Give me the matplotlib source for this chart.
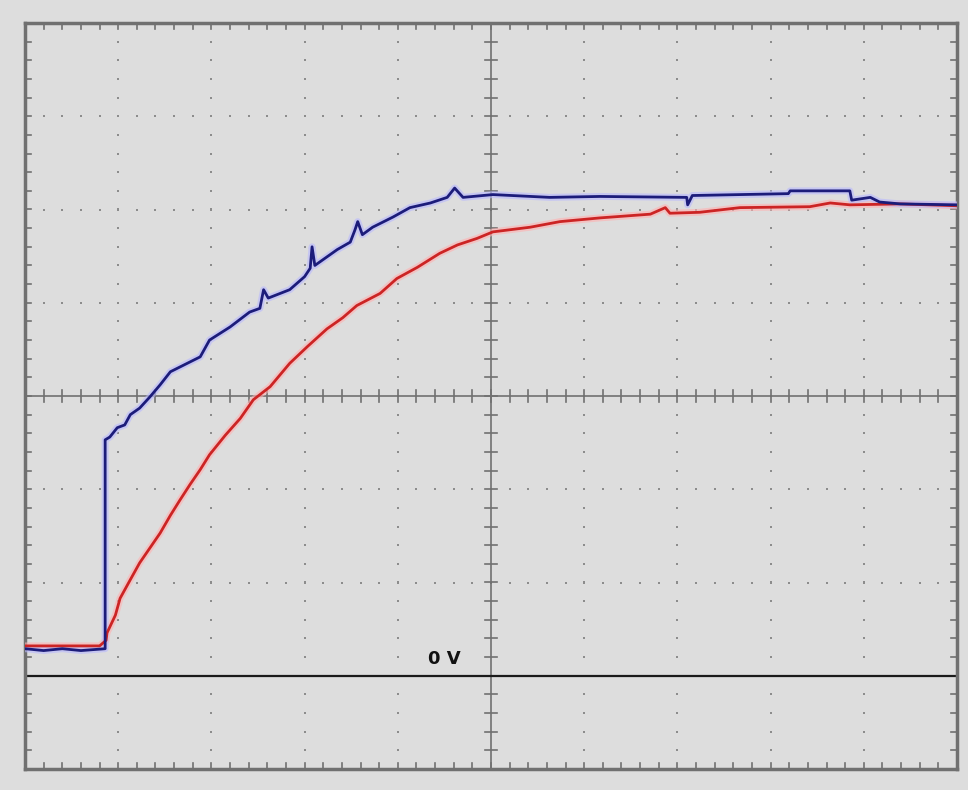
import numpy as np
import matplotlib
matplotlib.use("Agg")
import matplotlib.pyplot as plt

# scope traces in divisions (x: -5..5, y: -4..4)
blue_t = [-5.0, -4.8, -4.6, -4.4, -4.14, -4.14, -4.09, -4.01, -3.93, -3.87, -3.77, -3.66,
          -3.55, -3.44, -3.34, -3.12, -3.02, -2.80, -2.59, -2.48, -2.44, -2.39, -2.16,
          -2.00, -1.94, -1.92, -1.89, -1.65, -1.51, -1.46, -1.43, -1.38, -1.27, -1.05,
          -0.87, -0.65, -0.47, -0.39, -0.30, 0.02, 0.63, 1.17, 2.10, 2.11, 2.16, 3.19,
          3.21, 3.85, 3.87, 4.07, 4.17, 4.39, 5.0]
blue_v = [-2.71, -2.73, -2.71, -2.73, -2.71, -0.47, -0.44, -0.34, -0.31, -0.20, -0.13, -0.01,
          0.12, 0.26, 0.31, 0.42, 0.60, 0.74, 0.90, 0.94, 1.14, 1.05, 1.14,
          1.28, 1.37, 1.60, 1.40, 1.57, 1.65, 1.78, 1.87, 1.73, 1.81, 1.92,
          2.02, 2.07, 2.13, 2.23, 2.13, 2.16, 2.13, 2.14, 2.13, 2.05, 2.15, 2.17,
          2.20, 2.20, 2.10, 2.13, 2.08, 2.06, 2.05]

red_t = [-5.0, -4.6, -4.2, -4.13, -4.12, -4.03, -3.98, -3.87, -3.77, -3.66, -3.55, -3.44,
         -3.34, -3.23, -3.12, -3.02, -2.85, -2.69, -2.55, -2.37, -2.16, -1.97, -1.76,
         -1.59, -1.44, -1.19, -1.01, -0.79, -0.55, -0.36, -0.15, 0.02, 0.42, 0.74,
         1.17, 1.71, 1.87, 1.92, 2.24, 2.67, 3.42, 3.64, 3.85, 4.39, 5.0]
red_v = [-2.68, -2.68, -2.68, -2.62, -2.54, -2.35, -2.17, -1.97, -1.79, -1.63, -1.47, -1.28,
         -1.12, -0.95, -0.79, -0.63, -0.42, -0.24, -0.04, 0.10, 0.35, 0.53, 0.72,
         0.84, 0.97, 1.10, 1.26, 1.38, 1.53, 1.62, 1.69, 1.76, 1.81, 1.87,
         1.91, 1.95, 2.02, 1.96, 1.97, 2.02, 2.03, 2.07, 2.05, 2.06, 2.04]

zero_level = -3.0
zero_label = "0 V"

bg = "#dddddd"
frame_col = "#707070"
grid_col = "#8c8c8c"

fig = plt.figure(figsize=(9.68, 7.9), dpi=100, facecolor=bg)
ax = fig.add_axes([25 / 968, 21 / 790, 932 / 968, 746 / 790])
ax.set_facecolor(bg)
ax.set_xlim(-5, 5)
ax.set_ylim(-4, 4)
ax.set_xticks([])
ax.set_yticks([])
for s in ax.spines.values():
    s.set_color(frame_col)
    s.set_linewidth(2.5)

minor_x = np.arange(-5, 5.01, 0.2)
minor_y = np.arange(-4, 4.01, 0.2)

# dotted graticule on the major lines
for gx in range(-4, 5):
    if gx == 0:
        continue
    ax.scatter(np.full(len(minor_y), gx), minor_y, s=2, c=grid_col, marker="s", lw=0, zorder=1)
for gy in range(-3, 4):
    if gy == 0:
        continue
    ax.scatter(minor_x, np.full(len(minor_x), gy), s=2, c=grid_col, marker="s", lw=0, zorder=1)

# centre cross with tick marks
ax.axhline(0, color=frame_col, lw=1.2, zorder=1)
ax.axvline(0, color=frame_col, lw=1.2, zorder=1)
tx = 0.06
ty = 0.06
for x in minor_x:
    ax.plot([x, x], [-ty, ty], color=frame_col, lw=1.2, zorder=1)
    ax.plot([x, x], [-4, -4 + ty], color=frame_col, lw=1.2, zorder=1)
    ax.plot([x, x], [4 - ty, 4], color=frame_col, lw=1.2, zorder=1)
for y in minor_y:
    ax.plot([-tx, tx], [y, y], color=frame_col, lw=1.2, zorder=1)
    ax.plot([-5, -5 + tx], [y, y], color=frame_col, lw=1.2, zorder=1)
    ax.plot([5 - tx, 5], [y, y], color=frame_col, lw=1.2, zorder=1)

# ground reference
ax.axhline(zero_level, color="#1a1a1a", lw=1.6, zorder=2)
ax.text(-0.68, zero_level + 0.08, zero_label, fontsize=13, fontweight="bold",
        color="#111111", ha="left", va="bottom", zorder=3)

# traces with a faint glow
ax.plot(red_t, red_v, color="#ffb0b0", lw=5, alpha=0.6, zorder=3)
ax.plot(blue_t, blue_v, color="#b8b8ff", lw=5, alpha=0.6, zorder=3)
ax.plot(red_t, red_v, color="#cc2424", lw=2.0, zorder=4)
ax.plot(blue_t, blue_v, color="#1c1c7a", lw=2.0, zorder=5)

fig.savefig("out.png", dpi=100, facecolor=bg)
